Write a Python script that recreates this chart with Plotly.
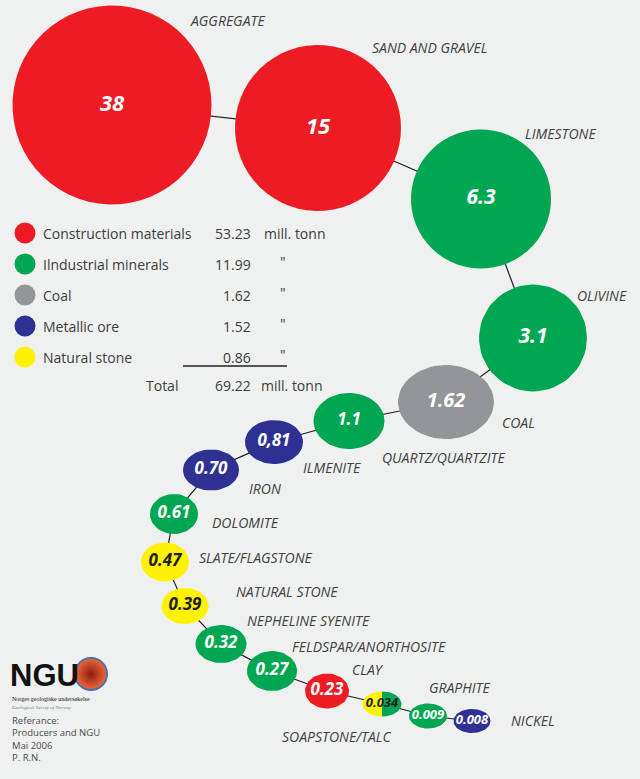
import numpy as np
import plotly.graph_objects as go

# production 2005/2006, mill. tonn
minerals = ["AGGREGATE", "SAND AND GRAVEL", "LIMESTONE", "OLIVINE", "COAL",
            "QUARTZ/QUARTZITE", "ILMENITE", "IRON", "DOLOMITE", "SLATE/FLAGSTONE",
            "NATURAL STONE", "NEPHELINE SYENITE", "FELDSPAR/ANORTHOSITE", "CLAY",
            "SOAPSTONE/TALC", "GRAPHITE", "NICKEL"]
production = [38, 15, 6.3, 3.1, 1.62, 1.1, 0.81, 0.70, 0.61, 0.47, 0.39, 0.32,
              0.27, 0.23, 0.034, 0.009, 0.008]
value_text = ["38", "15", "6.3", "3.1", "1.62", "1.1", "0,81", "0.70", "0.61", "0.47",
              "0.39", "0.32", "0.27", "0.23", "0.034", "0.009", "0.008"]
group = ["Construction materials", "Construction materials", "Industrial minerals",
         "Industrial minerals", "Coal", "Industrial minerals", "Metallic ore",
         "Metallic ore", "Industrial minerals", "Natural stone", "Natural stone",
         "Industrial minerals", "Industrial minerals", "Construction materials",
         "Natural stone/Industrial minerals", "Industrial minerals", "Metallic ore"]

legend_names = ["Construction materials", "Ilndustrial minerals", "Coal",
                "Metallic ore", "Natural stone"]
legend_keys = ["Construction materials", "Industrial minerals", "Coal",
               "Metallic ore", "Natural stone"]
legend_totals = ["53.23", "11.99", "1.62", "1.52", "0.86"]
legend_units = ["mill. tonn", '"', '"', '"', '"']
total_value = "69.22"

colors = {"Construction materials": "#ed1c24", "Industrial minerals": "#00a651",
          "Coal": "#939598", "Metallic ore": "#2e3192", "Natural stone": "#fff200"}

# layout of the chain (pixel positions on the page)
cx = [112, 318, 481, 533, 446, 349, 274, 211, 174, 165, 185, 221, 272, 327, 382, 428, 472]
cy = [105, 128, 199, 338, 402, 421, 442, 470, 514, 562, 606, 644, 671, 691, 704, 716, 721]
bw = [199, 166, 140, 108, 96, 71, 58, 56, 48, 48, 47, 51, 50, 44, 39, 38, 37]
bh = [199, 166, 139, 107, 74, 56, 44, 41, 40, 39, 36, 38, 40, 35, 25, 25, 24]
font_px = [22, 22, 21, 21, 20, 17, 17, 17, 17, 17, 17, 17, 17, 17, 13, 13, 13]
lab_x = [188, 370, 523, 575, 500, 380, 301, 247, 210, 197, 234, 245, 290, 350, 280, 427, 509]
lab_y = [20, 47, 133, 295, 422, 457, 467, 488, 522, 557, 591, 620, 646, 669, 736, 687, 720]

fig = go.Figure()

# connecting line
fig.add_trace(go.Scatter(x=cx, y=cy, mode="lines",
                         line=dict(color="#231f20", width=1.2), hoverinfo="skip"))


def half(x0, y0, w, h, t0, t1):
    t = np.linspace(t0, t1, 60)
    return x0 + w / 2 * np.cos(t), y0 + h / 2 * np.sin(t)


for i in range(len(minerals)):
    g = group[i]
    if "/" in g:
        parts = g.split("/")
        for p, (t0, t1) in zip(parts, [(np.pi / 2, 3 * np.pi / 2), (-np.pi / 2, np.pi / 2)]):
            xs, ys = half(cx[i], cy[i], bw[i], bh[i], t0, t1)
            fig.add_trace(go.Scatter(x=xs, y=ys, mode="lines", fill="toself",
                                     fillcolor=colors[p], line=dict(width=0),
                                     hoverinfo="skip"))
    else:
        xs, ys = half(cx[i], cy[i], bw[i], bh[i], 0, 2 * np.pi)
        fig.add_trace(go.Scatter(x=xs, y=ys, mode="lines", fill="toself",
                                 fillcolor=colors[g], line=dict(width=0),
                                 hovertext=f"{minerals[i]}: {production[i]}",
                                 hoverinfo="text"))

txt_col = ["#231f20" if g.startswith("Natural") else "white" for g in group]
fig.add_trace(go.Scatter(x=cx, y=cy, mode="text", text=value_text,
                         textfont=dict(family="Open Sans", size=font_px, color=txt_col,
                                       weight="bold", style="italic"),
                         hoverinfo="skip"))

for i in range(len(minerals)):
    fig.add_annotation(x=lab_x[i], y=lab_y[i], text=minerals[i], showarrow=False,
                       xanchor="left", yanchor="middle",
                       font=dict(family="Open Sans", size=14, color="#404040",
                                 style="italic"))

# legend block
leg_y = [233, 264, 295, 326, 357]
fig.add_trace(go.Scatter(x=[25] * 5, y=leg_y, mode="markers",
                         marker=dict(size=21, color=[colors[k] for k in legend_keys]),
                         hoverinfo="skip"))
lf = dict(family="Open Sans", size=14, color="#3c3c3c")
for i in range(5):
    fig.add_annotation(x=41, y=leg_y[i], text=legend_names[i], showarrow=False,
                       xanchor="left", font=lf)
    fig.add_annotation(x=253, y=leg_y[i], text=legend_totals[i], showarrow=False,
                       xanchor="right", font=lf)
    fig.add_annotation(x=262 if i == 0 else 278, y=leg_y[i] - (0 if i == 0 else 3),
                       text=legend_units[i], showarrow=False, xanchor="left", font=lf)
fig.add_shape(type="line", x0=183, x1=287, y0=366, y1=366,
              line=dict(color="#231f20", width=1.3))
fig.add_annotation(x=180, y=385, text="Total", showarrow=False, xanchor="right", font=lf)
fig.add_annotation(x=253, y=385, text=total_value, showarrow=False, xanchor="right", font=lf)
fig.add_annotation(x=259, y=385, text="mill. tonn", showarrow=False, xanchor="left", font=lf)

# NGU logo and reference
fig.add_trace(go.Scatter(x=[91], y=[674], mode="markers",
                         marker=dict(size=32, color="#f06a3a",
                                     gradient=dict(type="radial", color="#8c1a12"),
                                     line=dict(width=2, color="#4f6fa8")),
                         hoverinfo="skip"))
fig.add_annotation(x=8, y=675, text="<b>NGU</b>", showarrow=False, xanchor="left",
                   font=dict(family="Liberation Sans", size=31, color="#111111"))
fig.add_annotation(x=10, y=703,
                   text="Norges geologiske undersøkelse<br>"
                        "<span style='font-size:5px;color:#777777'><i>Geological Survey of Norway</i></span>",
                   showarrow=False, xanchor="left", align="left",
                   font=dict(family="Liberation Sans Narrow", size=6, color="#111111"))
ref_lines = ["Referance:", "Producers and NGU", "Mai 2006", "P. R.N."]
fig.add_annotation(x=10, y=739, text="<br>".join(ref_lines), showarrow=False,
                   xanchor="left", align="left",
                   font=dict(family="Open Sans", size=9.5, color="#4a4a4a"))

fig.update_layout(
    width=640, height=779, margin=dict(l=0, r=0, t=0, b=0),
    paper_bgcolor="#eff0f0", plot_bgcolor="#eff0f0", showlegend=False,
    xaxis=dict(range=[0, 640], visible=False, fixedrange=True),
    yaxis=dict(range=[779, 0], visible=False, fixedrange=True),
)
fig.write_html("out.html", config={"displayModeBar": False},
               post_script="document.body.style.margin='0';")
